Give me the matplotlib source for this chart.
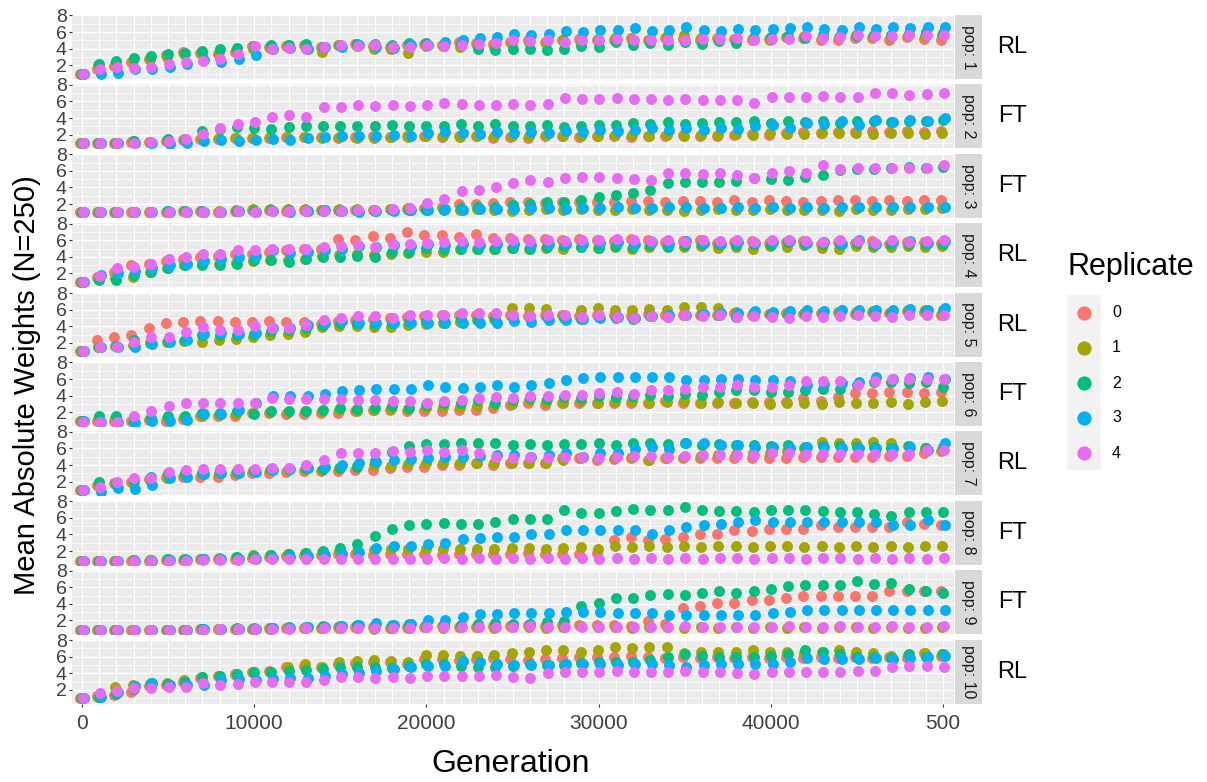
import numpy as np
import matplotlib
matplotlib.use("Agg")
import matplotlib.pyplot as plt

plt.rcParams["font.family"] = ["Liberation Sans", "DejaVu Sans"]

generations = list(range(0, 50001, 1000))
replicates = ["0", "1", "2", "3", "4"]
rep_colors = ["#F8766D", "#A3A500", "#00BF7D", "#00B0F6", "#E76BF3"]
populations = ["pop: %d" % k for k in range(1, 11)]
regimes = ["RL", "FT", "FT", "RL", "RL", "FT", "RL", "FT", "FT", "RL"]
x_tick_labels = ["0", "10000", "20000", "30000", "40000", "500"]

# ---- pop 1 ----
pop1_r0 = [1.0, 1.6, 1.9, 2.4, 2.8, 3.2, 3.6, 3.5, 3.4, 3.6,
           4.3, 4.2, 4.3, 4.4, 4.2, 4.5, 4.6, 4.3, 4.2, 4.4,
           4.6, 4.5, 4.8, 4.7, 4.6, 4.8, 5.0, 4.8, 5.0, 5.2,
           5.0, 5.1, 5.3, 5.0, 5.3, 5.2, 5.0, 5.3, 5.2, 5.0,
           5.2, 5.4, 5.3, 5.1, 5.0, 5.3, 5.3, 5.1, 5.4, 5.2,
           5.1]
pop1_r1 = [1.0, 2.0, 2.2, 2.6, 2.8, 3.0, 3.4, 3.3, 3.6, 3.8,
           4.0, 4.1, 4.4, 4.2, 3.6, 4.4, 4.3, 4.0, 3.9, 3.5,
           4.3, 4.3, 4.2, 4.4, 4.2, 4.6, 4.8, 4.7, 5.0, 4.8,
           5.2, 5.3, 5.1, 5.0, 5.5, 5.6, 5.3, 5.0, 5.2, 5.3,
           5.0, 5.4, 5.5, 5.3, 5.4, 5.6, 5.5, 5.4, 5.6, 5.5,
           5.7]
pop1_r2 = [1.0, 2.2, 2.5, 2.9, 3.1, 3.3, 3.5, 3.7, 4.0, 4.1,
           4.3, 4.4, 4.5, 4.6, 4.2, 4.4, 4.6, 4.6, 4.4, 4.7,
           4.7, 4.3, 4.6, 3.9, 3.8, 4.0, 3.9, 3.8, 4.0, 4.3,
           4.2, 4.8, 4.4, 4.7, 4.5, 4.8, 4.6, 4.9, 4.7, 5.2,
           5.4, 5.5, 5.3, 5.6, 5.5, 5.5, 5.6, 5.7, 5.8, 6.0,
           5.9]
pop1_r3 = [1.0, 0.9, 1.1, 1.5, 1.6, 1.8, 2.2, 2.6, 2.4, 2.8,
           3.2, 3.9, 4.1, 4.0, 4.2, 4.2, 4.5, 4.2, 4.1, 4.4,
           4.4, 4.8, 5.0, 5.3, 5.4, 5.8, 5.7, 5.8, 6.1, 6.0,
           6.2, 6.3, 6.5, 6.1, 6.3, 6.6, 6.3, 6.1, 6.4, 6.2,
           6.4, 6.5, 6.6, 6.4, 6.3, 6.6, 6.4, 6.6, 6.5, 6.6,
           6.6]
pop1_r4 = [1.0, 1.5, 1.8, 1.7, 1.8, 2.1, 2.4, 2.5, 2.7, 3.4,
           4.3, 4.0, 4.1, 4.0, 4.2, 4.4, 4.3, 4.4, 4.2, 4.2,
           4.5, 4.3, 4.5, 4.6, 4.7, 5.0, 4.9, 5.0, 4.8, 5.0,
           5.0, 5.2, 5.1, 5.0, 5.1, 5.0, 5.2, 5.2, 5.3, 5.0,
           5.2, 5.2, 5.5, 5.3, 5.4, 5.6, 5.5, 5.5, 5.6, 5.7,
           5.6]

# ---- pop 2 ----
pop2_r0 = [1.0, 1.0, 1.0, 1.1, 1.1, 1.3, 1.4, 1.5, 1.5, 1.6,
           1.6, 1.6, 1.7, 1.7, 1.7, 1.6, 1.7, 1.8, 1.7, 1.8,
           1.8, 1.7, 1.8, 1.8, 1.6, 1.7, 1.6, 1.8, 1.8, 1.7,
           1.8, 1.9, 1.7, 1.8, 1.9, 2.0, 1.9, 1.9, 2.0, 2.1,
           2.0, 2.2, 2.3, 2.2, 2.3, 2.3, 2.4, 2.3, 2.4, 2.3,
           2.4]
pop2_r1 = [1.0, 1.0, 1.0, 1.2, 1.1, 1.4, 1.5, 1.5, 1.6, 1.6,
           1.6, 1.7, 1.6, 1.7, 1.6, 1.7, 1.6, 1.6, 1.7, 1.7,
           1.8, 1.8, 1.7, 1.8, 1.8, 1.9, 1.8, 2.0, 1.9, 1.8,
           1.9, 2.0, 2.0, 1.9, 2.0, 1.9, 2.0, 2.0, 2.1, 2.0,
           2.2, 2.1, 2.1, 2.2, 2.2, 2.2, 2.1, 2.2, 2.2, 2.1,
           2.2]
pop2_r2 = [1.0, 1.0, 1.0, 1.2, 1.0, 1.5, 1.4, 2.5, 2.7, 2.9,
           2.8, 2.7, 2.9, 3.0, 3.1, 3.0, 3.0, 3.1, 3.2, 3.0,
           3.1, 3.0, 3.3, 3.1, 3.3, 3.1, 3.1, 3.2, 2.9, 3.1,
           3.2, 3.2, 3.4, 3.3, 3.5, 3.3, 3.4, 3.5, 3.5, 3.6,
           3.4, 3.7, 3.5, 3.6, 3.4, 3.7, 3.6, 3.5, 3.7, 3.6,
           3.8]
pop2_r3 = [1.0, 1.0, 1.0, 1.0, 1.0, 0.9, 1.0, 1.2, 1.4, 1.3,
           1.4, 1.5, 1.4, 1.6, 1.7, 1.8, 1.9, 1.9, 2.0, 1.9,
           2.2, 2.3, 2.2, 2.1, 2.3, 2.2, 2.3, 2.2, 2.5, 2.3,
           2.6, 2.4, 2.6, 2.8, 2.6, 2.8, 2.6, 2.8, 2.7, 3.0,
           3.2, 2.8, 3.4, 3.3, 3.6, 3.2, 3.8, 3.5, 3.8, 3.6,
           4.0]
pop2_r4 = [1.0, 1.0, 1.0, 1.0, 1.1, 1.3, 1.5, 2.1, 2.8, 3.3,
           3.5, 4.1, 4.4, 4.1, 5.3, 5.3, 5.6, 5.5, 5.6, 5.5,
           5.6, 5.8, 5.7, 5.6, 5.6, 5.7, 5.6, 5.7, 6.4, 6.3,
           6.3, 6.4, 6.3, 6.3, 6.2, 6.3, 6.2, 6.2, 6.2, 5.8,
           6.5, 6.5, 6.5, 6.6, 6.5, 6.5, 7.0, 7.0, 6.8, 6.9,
           7.0]

# ---- pop 3 ----
pop3_r0 = [1.0, 1.0, 1.0, 1.0, 1.1, 1.1, 1.2, 1.2, 1.1, 1.2,
           1.3, 1.3, 1.2, 1.3, 1.3, 1.3, 1.3, 1.3, 1.4, 1.4,
           1.5, 1.6, 2.0, 2.0, 2.1, 2.2, 2.3, 2.1, 2.3, 2.3,
           2.2, 2.3, 2.4, 2.4, 2.3, 2.4, 2.4, 2.2, 2.5, 2.3,
           2.5, 2.4, 2.2, 2.4, 2.5, 2.5, 2.4, 2.5, 2.4, 2.5,
           2.5]
pop3_r1 = [1.0, 1.0, 1.0, 1.0, 1.1, 1.2, 1.2, 1.1, 1.2, 1.3,
           1.4, 1.4, 1.4, 1.4, 1.3, 1.4, 1.4, 1.3, 1.4, 1.5,
           1.4, 1.4, 1.3, 1.4, 1.3, 1.2, 1.3, 1.4, 1.3, 1.4,
           1.3, 1.3, 1.4, 1.3, 1.3, 1.2, 1.3, 1.4, 1.3, 1.3,
           1.4, 1.3, 1.3, 1.3, 1.2, 1.4, 1.3, 1.3, 1.4, 1.4,
           1.5]
pop3_r2 = [1.0, 1.0, 1.0, 1.0, 1.0, 1.2, 1.2, 1.2, 1.1, 1.2,
           1.2, 1.3, 1.3, 1.2, 1.2, 1.2, 1.3, 1.2, 1.3, 1.3,
           1.3, 1.3, 1.5, 1.6, 1.7, 1.9, 2.0, 2.2, 2.3, 2.5,
           2.9, 3.1, 3.3, 3.7, 4.5, 4.6, 4.6, 4.7, 4.8, 5.1,
           5.0, 4.9, 5.3, 5.5, 6.1, 6.2, 6.2, 6.3, 6.5, 6.4,
           6.5]
pop3_r3 = [1.0, 1.0, 1.0, 1.0, 1.0, 1.1, 1.1, 1.1, 1.1, 1.2,
           1.1, 1.2, 1.1, 1.2, 1.3, 1.2, 1.1, 1.2, 1.2, 1.3,
           1.3, 1.4, 1.3, 1.4, 1.4, 1.4, 1.5, 1.5, 1.4, 1.5,
           1.5, 1.6, 1.5, 1.5, 1.6, 1.6, 1.5, 1.5, 1.6, 1.5,
           1.6, 1.5, 1.6, 1.5, 1.6, 1.7, 1.6, 1.6, 1.7, 1.6,
           1.6]
pop3_r4 = [1.0, 1.0, 1.0, 1.0, 1.0, 1.1, 1.1, 1.1, 1.1, 1.2,
           1.1, 1.2, 1.2, 1.2, 1.2, 1.2, 1.3, 1.3, 1.4, 1.5,
           2.1, 2.6, 3.6, 3.7, 4.1, 4.5, 4.9, 4.7, 5.1, 5.3,
           5.2, 5.1, 5.0, 4.9, 5.7, 5.8, 5.6, 5.7, 5.5, 5.1,
           5.7, 6.0, 5.7, 6.7, 6.2, 6.3, 6.3, 6.3, 6.3, 6.3,
           6.7]

# ---- pop 4 ----
pop4_r0 = [1.0, 1.6, 2.2, 3.0, 3.2, 3.5, 3.8, 4.0, 4.1, 4.3,
           4.4, 4.6, 4.8, 4.9, 5.0, 6.2, 6.0, 6.5, 6.3, 7.0,
           6.6, 6.6, 6.4, 6.8, 6.3, 6.3, 6.2, 6.2, 6.0, 6.1,
           6.0, 5.9, 6.1, 6.0, 5.8, 5.9, 6.0, 5.7, 5.8, 5.9,
           5.7, 5.8, 5.9, 5.6, 5.8, 5.7, 5.9, 5.6, 5.8, 5.8,
           5.7]
pop4_r1 = [1.0, 1.3, 1.5, 1.6, 2.2, 2.7, 3.0, 3.1, 3.2, 3.3,
           3.5, 3.6, 3.6, 3.7, 4.1, 4.2, 4.3, 4.2, 4.4, 4.5,
           4.6, 4.6, 4.9, 5.0, 5.0, 5.1, 5.0, 5.1, 5.0, 5.2,
           5.1, 5.2, 5.0, 5.2, 5.3, 5.2, 5.3, 5.1, 5.2, 5.0,
           5.3, 5.2, 5.4, 5.1, 5.0, 5.3, 5.2, 5.2, 5.3, 5.2,
           5.3]
pop4_r2 = [1.0, 1.2, 1.2, 1.8, 2.2, 2.6, 3.0, 3.0, 3.0, 3.2,
           3.6, 3.6, 3.4, 3.8, 4.0, 4.0, 4.1, 4.0, 4.6, 4.6,
           5.1, 4.9, 5.0, 5.0, 4.9, 5.1, 5.0, 5.2, 5.3, 5.2,
           5.1, 5.3, 5.2, 5.4, 5.2, 5.4, 5.5, 5.6, 5.4, 5.6,
           5.4, 5.8, 5.5, 5.6, 5.5, 5.7, 5.4, 5.6, 5.5, 5.6,
           5.5]
pop4_r3 = [1.0, 1.8, 2.0, 2.3, 2.7, 3.0, 3.2, 3.5, 3.8, 4.0,
           4.1, 4.8, 4.5, 4.6, 4.8, 5.0, 5.3, 5.2, 5.4, 5.3,
           5.5, 5.4, 5.6, 5.4, 5.5, 5.6, 5.4, 5.5, 5.6, 5.5,
           5.7, 5.8, 5.6, 5.8, 5.6, 5.9, 5.7, 5.6, 5.8, 5.7,
           5.8, 5.9, 5.7, 5.8, 5.6, 6.0, 5.6, 5.8, 5.9, 5.7,
           5.9]
pop4_r4 = [1.0, 1.7, 2.6, 2.8, 3.2, 3.8, 4.0, 4.4, 4.4, 4.8,
           4.8, 4.9, 5.0, 5.0, 5.2, 5.3, 5.4, 5.2, 5.6, 5.5,
           5.7, 5.8, 5.9, 5.8, 5.9, 6.0, 5.9, 6.0, 5.9, 6.0,
           6.0, 6.1, 6.0, 5.9, 6.0, 5.8, 6.0, 5.9, 6.0, 5.8,
           6.0, 6.0, 5.9, 5.8, 6.0, 5.9, 5.7, 6.0, 5.8, 5.9,
           6.0]

# ---- pop 5 ----
pop5_r0 = [1.0, 2.3, 2.7, 2.9, 3.8, 4.4, 4.5, 4.6, 4.6, 4.5,
           4.5, 4.6, 4.5, 4.5, 4.3, 4.6, 4.8, 4.9, 5.0, 5.1,
           5.2, 5.3, 5.4, 5.3, 5.2, 5.3, 5.2, 5.4, 5.3, 5.2,
           5.3, 5.4, 5.2, 5.5, 5.4, 5.3, 5.4, 5.3, 5.6, 5.4,
           5.5, 5.6, 5.5, 5.6, 5.7, 5.5, 5.7, 5.6, 5.8, 5.7,
           5.3]
pop5_r1 = [1.0, 1.5, 1.6, 1.8, 2.0, 2.1, 2.2, 2.1, 2.3, 2.5,
           2.7, 2.9, 3.1, 3.3, 3.9, 4.0, 4.0, 3.9, 3.9, 4.2,
           4.3, 4.4, 4.5, 4.7, 4.9, 6.2, 6.2, 6.1, 5.4, 5.9,
           6.2, 6.0, 6.0, 6.1, 5.9, 6.3, 6.3, 6.2, 5.7, 5.6,
           5.5, 5.5, 5.6, 5.5, 5.5, 5.7, 5.8, 5.7, 5.9, 5.9,
           5.5]
pop5_r2 = [1.0, 1.5, 1.6, 2.3, 2.0, 2.2, 2.4, 2.9, 3.0, 3.0,
           3.1, 3.4, 3.6, 3.8, 4.2, 4.4, 4.4, 4.3, 4.4, 4.5,
           4.6, 4.8, 4.9, 4.8, 4.9, 5.0, 5.2, 5.1, 5.0, 4.9,
           5.1, 5.0, 4.9, 5.2, 5.1, 5.3, 5.3, 5.4, 5.1, 5.4,
           5.5, 5.3, 5.5, 5.6, 5.7, 5.5, 5.7, 5.6, 5.7, 5.8,
           5.9]
pop5_r3 = [1.0, 1.5, 1.5, 1.5, 1.9, 2.1, 2.3, 3.1, 3.2, 3.1,
           3.2, 3.8, 3.8, 4.1, 4.4, 4.6, 4.4, 4.4, 4.4, 4.4,
           4.4, 4.4, 4.4, 4.4, 4.4, 4.6, 4.5, 4.8, 4.7, 4.9,
           5.0, 5.1, 5.0, 5.2, 5.4, 5.3, 5.5, 5.6, 5.6, 5.8,
           5.7, 5.8, 5.9, 5.8, 5.9, 6.0, 5.9, 6.0, 6.1, 6.0,
           6.2]
pop5_r4 = [1.0, 1.5, 1.5, 2.1, 2.7, 2.7, 3.3, 3.9, 3.6, 3.5,
           4.0, 3.8, 3.8, 4.2, 4.8, 5.0, 5.2, 5.2, 5.0, 5.4,
           5.4, 5.4, 5.6, 5.6, 5.6, 5.3, 5.2, 5.4, 5.3, 5.1,
           5.3, 5.1, 5.0, 5.2, 5.1, 5.3, 5.2, 5.3, 5.1, 5.2,
           5.1, 5.0, 5.2, 5.1, 5.2, 5.3, 5.2, 5.1, 5.3, 5.4,
           5.3]

# ---- pop 6 ----
pop6_r0 = [0.9, 0.9, 1.0, 1.0, 1.1, 1.0, 1.2, 1.5, 1.6, 1.6,
           1.9, 1.9, 1.8, 1.8, 1.9, 1.9, 2.1, 2.3, 2.3, 2.2,
           2.2, 2.2, 2.3, 2.3, 2.5, 2.9, 3.1, 2.9, 3.1, 3.1,
           3.1, 3.1, 3.1, 3.1, 3.3, 3.1, 3.1, 3.1, 3.1, 3.2,
           3.2, 3.2, 3.7, 3.3, 3.8, 4.3, 4.3, 4.5, 4.4, 4.3,
           4.5]
pop6_r1 = [0.9, 1.2, 1.3, 1.0, 1.2, 1.3, 1.4, 1.6, 1.7, 1.8,
           1.9, 2.0, 2.0, 2.1, 2.2, 2.3, 2.2, 2.3, 2.4, 2.4,
           2.5, 2.6, 2.6, 2.8, 2.9, 3.0, 3.5, 3.2, 3.1, 3.3,
           3.1, 3.2, 3.3, 3.1, 3.2, 3.3, 3.1, 3.2, 3.1, 3.1,
           3.0, 3.1, 3.1, 3.0, 3.2, 3.1, 3.1, 3.2, 3.0, 3.2,
           3.3]
pop6_r2 = [0.9, 1.5, 1.6, 0.9, 1.3, 1.5, 1.5, 1.9, 1.9, 2.1,
           1.8, 2.1, 2.1, 2.1, 2.3, 2.5, 2.4, 2.5, 2.7, 2.5,
           2.9, 3.1, 3.1, 3.5, 3.1, 3.5, 3.7, 3.6, 3.8, 3.7,
           3.9, 3.8, 4.0, 4.1, 4.0, 4.2, 4.1, 4.5, 4.7, 4.7,
           4.5, 4.5, 4.7, 4.8, 4.8, 5.3, 5.6, 5.6, 5.5, 5.6,
           5.1]
pop6_r3 = [0.9, 0.8, 0.8, 0.7, 0.9, 0.9, 1.1, 1.8, 1.8, 2.3,
           3.1, 3.9, 3.9, 3.9, 4.2, 4.6, 4.7, 4.8, 4.8, 4.8,
           5.3, 5.1, 4.9, 5.0, 5.3, 5.1, 5.3, 5.5, 5.9, 6.1,
           6.2, 6.2, 6.2, 6.2, 6.2, 5.9, 5.9, 6.0, 6.0, 5.9,
           5.9, 5.8, 5.3, 5.4, 5.5, 5.7, 6.2, 6.0, 6.1, 6.2,
           6.0]
pop6_r4 = [0.8, 0.8, 0.8, 1.5, 2.1, 2.7, 3.1, 3.1, 3.1, 3.1,
           3.1, 3.7, 3.6, 3.6, 3.6, 3.6, 3.5, 3.5, 3.4, 3.3,
           3.1, 3.4, 3.5, 3.7, 3.8, 3.7, 4.0, 4.0, 4.1, 4.1,
           4.3, 4.4, 4.2, 4.7, 4.7, 4.8, 5.1, 5.1, 5.3, 5.1,
           5.0, 5.3, 5.8, 5.8, 5.8, 5.3, 5.8, 6.0, 6.0, 6.0,
           6.0]

# ---- pop 7 ----
pop7_r0 = [1.0, 1.6, 1.8, 2.0, 2.3, 2.6, 2.6, 2.6, 2.6, 2.8,
           3.0, 3.1, 3.2, 3.3, 3.3, 3.3, 3.4, 3.4, 3.6, 3.8,
           3.8, 4.0, 4.0, 4.2, 4.0, 4.2, 4.3, 4.3, 4.9, 4.8,
           4.6, 4.7, 4.8, 4.6, 4.8, 4.8, 4.8, 4.8, 4.8, 4.8,
           4.9, 4.9, 5.0, 5.0, 5.0, 5.0, 5.0, 5.1, 5.1, 5.4,
           5.7]
pop7_r1 = [1.0, 1.5, 1.7, 1.9, 2.2, 2.5, 2.8, 2.9, 3.0, 3.1,
           3.3, 3.4, 3.4, 3.5, 3.4, 3.6, 3.9, 4.0, 3.9, 4.1,
           4.2, 4.3, 4.2, 4.2, 4.2, 4.2, 4.2, 4.2, 4.6, 4.8,
           4.8, 4.8, 5.0, 4.6, 4.9, 5.0, 5.1, 5.2, 5.3, 5.4,
           5.5, 5.7, 6.0, 6.8, 6.6, 6.7, 6.8, 6.7, 6.3, 6.0,
           5.8]
pop7_r2 = [1.0, 2.0, 1.8, 2.1, 2.6, 3.0, 3.1, 3.1, 3.2, 3.3,
           3.4, 3.5, 3.5, 3.6, 3.5, 3.6, 3.8, 4.5, 5.6, 6.3,
           6.5, 6.5, 6.6, 6.6, 6.6, 6.4, 6.5, 6.4, 6.5, 6.5,
           6.6, 6.4, 6.6, 6.6, 6.5, 6.6, 6.4, 6.5, 6.4, 6.4,
           6.3, 6.4, 6.2, 6.3, 6.3, 6.2, 6.2, 6.0, 6.3, 6.0,
           6.2]
pop7_r3 = [1.0, 0.8, 1.2, 1.1, 1.6, 2.4, 2.6, 2.9, 3.0, 3.1,
           3.2, 3.4, 3.5, 3.6, 3.8, 4.0, 4.2, 4.4, 4.6, 4.7,
           4.8, 5.0, 5.0, 5.1, 5.2, 5.2, 5.0, 5.2, 5.4, 5.0,
           5.5, 5.5, 5.9, 6.2, 5.9, 6.6, 6.6, 6.4, 6.4, 6.2,
           6.2, 6.0, 6.2, 6.2, 6.0, 6.0, 6.0, 6.0, 6.2, 5.8,
           6.6]
pop7_r4 = [1.0, 1.4, 2.0, 2.5, 2.5, 3.2, 3.4, 3.5, 3.5, 3.5,
           3.5, 3.6, 3.6, 4.0, 4.6, 5.4, 5.4, 5.4, 5.7, 5.6,
           5.8, 5.6, 5.8, 5.4, 5.0, 4.8, 5.0, 4.8, 5.0, 5.0,
           4.8, 5.0, 5.1, 5.1, 5.0, 5.1, 5.2, 5.2, 5.2, 5.2,
           5.4, 5.4, 5.3, 5.3, 5.3, 5.3, 5.3, 5.3, 5.3, 5.8,
           5.8]

# ---- pop 8 ----
pop8_r0 = [0.8, 0.8, 0.8, 0.8, 0.8, 0.9, 0.9, 1.0, 1.0, 1.1,
           1.2, 1.3, 1.4, 1.4, 1.5, 1.6, 1.6, 1.5, 1.6, 1.7,
           1.6, 1.5, 1.7, 1.6, 1.7, 1.7, 1.8, 1.7, 1.7, 1.6,
           1.8, 3.3, 3.7, 3.3, 3.5, 3.7, 4.1, 4.1, 4.5, 4.4,
           4.7, 4.7, 4.7, 5.1, 4.9, 4.9, 4.9, 4.9, 5.5, 5.3,
           5.1]
pop8_r1 = [0.8, 0.8, 0.8, 0.9, 0.9, 1.0, 1.1, 1.1, 1.2, 1.3,
           1.5, 1.5, 1.6, 1.8, 1.9, 2.0, 2.0, 2.1, 2.2, 2.2,
           2.3, 2.2, 2.3, 2.3, 2.3, 2.4, 2.4, 2.3, 2.4, 2.5,
           2.3, 2.6, 2.5, 2.6, 2.5, 2.6, 2.5, 2.6, 2.6, 2.5,
           2.6, 2.6, 2.5, 2.6, 2.5, 2.6, 2.5, 2.6, 2.5, 2.6,
           2.6]
pop8_r2 = [0.8, 0.8, 0.8, 0.9, 0.9, 1.0, 1.0, 1.1, 1.1, 1.3,
           1.4, 1.5, 1.6, 1.8, 2.0, 2.4, 2.8, 3.8, 4.7, 5.1,
           5.3, 5.4, 5.2, 5.2, 5.5, 5.9, 5.9, 5.9, 7.0, 6.6,
           6.6, 6.8, 7.1, 7.0, 7.0, 7.3, 7.0, 6.8, 6.8, 6.7,
           7.0, 7.0, 7.0, 6.8, 6.7, 6.7, 6.5, 6.2, 6.7, 6.7,
           6.7]
pop8_r3 = [0.8, 0.8, 0.8, 0.8, 0.8, 0.9, 0.9, 1.0, 1.0, 1.1,
           1.1, 1.2, 1.3, 1.4, 1.5, 1.6, 1.9, 2.4, 2.6, 2.6,
           2.8, 3.0, 3.4, 3.6, 3.7, 3.7, 4.1, 4.1, 4.5, 4.5,
           4.5, 4.5, 4.5, 4.1, 4.5, 4.9, 5.1, 5.3, 5.5, 5.7,
           5.5, 5.5, 5.5, 5.5, 5.5, 5.5, 5.5, 5.1, 5.1, 5.7,
           5.1]
pop8_r4 = [0.8, 0.8, 0.8, 0.8, 0.8, 0.8, 0.8, 0.9, 0.9, 0.9,
           1.0, 1.0, 1.0, 1.0, 1.1, 1.1, 1.1, 1.1, 1.1, 1.1,
           1.1, 1.2, 1.1, 1.2, 1.1, 1.2, 1.1, 1.2, 1.1, 1.2,
           1.1, 1.2, 1.1, 1.2, 1.1, 1.2, 1.1, 1.2, 1.2, 1.1,
           1.2, 1.2, 1.1, 1.2, 1.2, 1.1, 1.2, 1.1, 1.2, 1.1,
           1.2]

# ---- pop 9 ----
pop9_r0 = [0.9, 0.9, 0.9, 0.9, 0.9, 0.9, 0.9, 1.0, 1.0, 1.0,
           1.0, 1.1, 1.1, 1.1, 1.1, 1.2, 1.2, 1.2, 1.1, 1.2,
           1.2, 1.3, 1.2, 1.2, 1.3, 1.3, 1.4, 1.3, 1.4, 1.5,
           1.4, 1.4, 1.3, 1.9, 1.6, 3.5, 3.7, 4.1, 4.1, 4.5,
           4.5, 4.7, 4.9, 4.9, 4.9, 4.9, 4.9, 5.5, 5.6, 5.6,
           5.5]
pop9_r1 = [0.9, 0.9, 0.9, 0.9, 0.9, 0.9, 0.9, 1.0, 1.0, 1.0,
           1.0, 1.0, 1.1, 1.1, 1.1, 1.1, 1.1, 1.0, 1.1, 1.1,
           1.2, 1.1, 1.2, 1.2, 1.1, 1.2, 1.2, 1.1, 1.2, 1.3,
           1.2, 1.2, 1.1, 1.2, 1.2, 1.1, 1.2, 1.1, 1.2, 1.1,
           1.2, 1.1, 1.2, 1.1, 1.2, 1.2, 1.1, 1.2, 1.1, 1.1,
           1.2]
pop9_r2 = [0.9, 0.9, 0.9, 0.9, 0.9, 0.9, 0.9, 1.0, 1.0, 1.1,
           1.1, 1.1, 1.2, 1.2, 1.3, 1.3, 1.4, 1.5, 1.4, 1.6,
           1.5, 1.6, 1.5, 1.6, 1.7, 1.6, 1.6, 1.8, 1.9, 3.7,
           4.1, 4.7, 4.7, 5.1, 5.2, 5.1, 5.3, 5.6, 5.3, 5.5,
           5.8, 6.1, 6.3, 6.3, 6.3, 6.7, 6.4, 6.5, 5.8, 5.5,
           5.3]
pop9_r3 = [0.9, 0.9, 0.9, 0.9, 0.9, 0.9, 0.9, 1.0, 1.0, 1.0,
           1.0, 1.1, 1.1, 1.2, 1.2, 1.3, 1.4, 1.65, 1.5, 1.6,
           2.05, 2.1, 2.45, 2.75, 2.75, 2.85, 2.85, 2.85, 3.05, 3.05,
           3.05, 2.85, 2.85, 2.85, 2.65, 2.65, 2.65, 2.65, 2.65, 2.65,
           2.85, 3.05, 3.3, 3.3, 3.3, 3.3, 3.3, 3.3, 3.3, 3.3,
           3.3]
pop9_r4 = [0.9, 0.9, 0.9, 0.9, 0.9, 0.9, 0.9, 0.9, 1.0, 1.0,
           1.0, 1.0, 1.0, 1.1, 1.1, 1.1, 1.1, 1.1, 1.1, 1.1,
           1.2, 1.2, 1.2, 1.2, 1.2, 1.2, 1.3, 1.2, 1.2, 1.2,
           1.2, 1.2, 1.2, 1.2, 1.2, 1.3, 1.2, 1.2, 1.2, 1.2,
           1.2, 1.3, 1.2, 1.2, 1.3, 1.2, 1.2, 1.3, 1.2, 1.2,
           1.3]

# ---- pop 10 ----
pop10_r0 = [1.0, 1.3, 1.4, 1.8, 2.5, 2.6, 2.9, 3.4, 3.7, 3.9,
            4.1, 4.3, 4.7, 4.9, 4.8, 5.1, 5.2, 5.4, 5.3, 5.1,
            5.7, 5.7, 5.6, 5.7, 5.8, 5.7, 5.6, 5.7, 5.8, 5.9,
            6.0, 6.0, 6.1, 6.0, 5.8, 5.9, 5.8, 5.9, 5.8, 5.9,
            5.8, 5.9, 5.8, 5.9, 5.8, 5.9, 5.8, 5.9, 5.8, 6.4,
            6.1]
pop10_r1 = [1.0, 1.1, 2.3, 2.6, 2.7, 2.8, 3.2, 3.6, 3.7, 3.8,
            4.1, 4.2, 4.8, 5.1, 4.8, 5.3, 5.5, 5.6, 5.5, 5.4,
            6.2, 6.2, 6.1, 6.1, 6.2, 6.4, 6.5, 6.8, 6.8, 6.6,
            6.8, 7.1, 7.0, 7.1, 7.1, 6.4, 6.5, 6.6, 6.6, 6.75,
            6.6, 6.5, 6.4, 6.5, 6.8, 6.5, 6.4, 6.1, 6.2, 6.4,
            6.3]
pop10_r2 = [1.0, 1.1, 1.5, 2.1, 2.8, 2.7, 3.0, 3.5, 3.7, 3.9,
            4.1, 4.1, 4.3, 4.4, 4.5, 4.7, 4.7, 4.7, 4.6, 4.9,
            5.1, 5.1, 4.9, 4.8, 4.7, 4.9, 5.1, 5.0, 5.0, 5.2,
            5.3, 5.3, 5.3, 5.6, 5.9, 6.3, 6.1, 5.9, 5.9, 5.9,
            6.1, 6.3, 6.75, 6.6, 6.3, 5.9, 5.9, 5.8, 6.3, 5.9,
            6.3]
pop10_r3 = [1.0, 1.2, 1.8, 2.5, 2.8, 2.6, 2.6, 2.6, 3.2, 3.3,
            3.2, 3.3, 3.4, 3.4, 3.7, 3.9, 4.0, 4.3, 4.5, 4.7,
            4.9, 4.9, 5.5, 5.3, 5.1, 5.0, 5.0, 5.0, 5.1, 5.1,
            5.1, 5.0, 5.1, 5.1, 5.0, 4.8, 5.0, 5.1, 5.1, 5.1,
            5.1, 5.3, 5.8, 5.7, 5.7, 5.7, 5.8, 5.7, 5.8, 6.0,
            6.1]
pop10_r4 = [1.0, 1.6, 1.9, 2.2, 2.2, 2.4, 2.4, 2.8, 2.6, 2.7,
            2.9, 2.9, 2.9, 3.0, 3.2, 3.5, 3.5, 3.4, 3.5, 3.4,
            3.7, 3.7, 3.7, 3.7, 3.8, 3.6, 3.4, 4.0, 4.1, 4.2,
            4.2, 4.3, 4.2, 4.1, 4.1, 4.3, 4.1, 4.2, 4.0, 3.9,
            4.1, 4.1, 4.2, 4.2, 4.2, 4.3, 4.3, 4.7, 4.9, 4.9,
            4.7]

pop_data = [
    [pop1_r0, pop1_r1, pop1_r2, pop1_r3, pop1_r4],
    [pop2_r0, pop2_r1, pop2_r2, pop2_r3, pop2_r4],
    [pop3_r0, pop3_r1, pop3_r2, pop3_r3, pop3_r4],
    [pop4_r0, pop4_r1, pop4_r2, pop4_r3, pop4_r4],
    [pop5_r0, pop5_r1, pop5_r2, pop5_r3, pop5_r4],
    [pop6_r0, pop6_r1, pop6_r2, pop6_r3, pop6_r4],
    [pop7_r0, pop7_r1, pop7_r2, pop7_r3, pop7_r4],
    [pop8_r0, pop8_r1, pop8_r2, pop8_r3, pop8_r4],
    [pop9_r0, pop9_r1, pop9_r2, pop9_r3, pop9_r4],
    [pop10_r0, pop10_r1, pop10_r2, pop10_r3, pop10_r4],
]

W, H = 1207, 782
fig = plt.figure(figsize=(W / 100, H / 100), dpi=100)
fig.patch.set_facecolor("white")


def px_box(left, top, width, height):
    # pixel box (from top-left) -> figure fraction rect
    return [left / W, 1 - (top + height) / H, width / W, height / H]


x_pos = np.arange(len(generations))
dodge = [-0.12, -0.05, 0.0, 0.1, 0.04]   # small per-replicate shift inside each generation
y_lo, y_hi = 0.35, 8.05

panel_left, panel_width = 71.5, 882
panel_h, step, first_top = 64, 69.4, 15

for i, series in enumerate(pop_data):
    top = first_top + i * step
    ax = fig.add_axes(px_box(panel_left, top, panel_width, panel_h))
    ax.set_facecolor("#EBEBEB")
    ax.set_xlim(-0.6, len(generations) - 0.4)
    ax.set_ylim(y_lo, y_hi)

    # grid: one line per generation level, y majors and minors
    ax.vlines(x_pos, y_lo, y_hi, color="white", lw=0.9, zorder=0)
    ax.hlines([1, 3, 5, 7], -0.6, len(generations), color="white", lw=0.5, zorder=0)
    ax.hlines([2, 4, 6, 8], -0.6, len(generations), color="white", lw=1.0, zorder=0)

    for k, vals in enumerate(series):
        ax.scatter(x_pos + dodge[k], vals, s=62, color=rep_colors[k],
                   linewidths=0, zorder=2 + k)

    for sp in ax.spines.values():
        sp.set_visible(False)

    ax.set_yticks([2, 4, 6, 8])
    ax.set_yticklabels(["2", "4", "6", "8"])
    ax.tick_params(axis="y", length=2.5, width=0.8, color="#333333",
                   labelsize=14, labelcolor="#3F3F3F", pad=1)

    ax.set_xticks(x_pos[::10])
    if i == len(pop_data) - 1:
        ax.set_xticklabels(x_tick_labels)
        ax.tick_params(axis="x", length=2.5, width=0.8, color="#333333",
                       labelsize=15, labelcolor="#3F3F3F", pad=5)
    else:
        ax.set_xticklabels([])
        ax.tick_params(axis="x", length=0)

    # facet strip on the right
    sax = fig.add_axes(px_box(955, top, 27, panel_h))
    sax.set_facecolor("#D9D9D9")
    sax.set_xticks([])
    sax.set_yticks([])
    for sp in sax.spines.values():
        sp.set_visible(False)
    sax.text(0.5, 0.5, populations[i], rotation=-90, ha="center", va="center",
             fontsize=11.5, color="#1A1A1A", transform=sax.transAxes)

    fig.text(1012 / W, 1 - (top + panel_h / 2) / H, regimes[i],
             ha="center", va="center", fontsize=17, color="black")

fig.text(27 / W, 1 - 385 / H, "Mean Absolute Weights (N=250)", rotation=90,
         ha="center", va="center", fontsize=21, color="black")
fig.text(511 / W, 1 - 764 / H, "Generation", ha="center", va="center",
         fontsize=23, color="black")

# legend
fig.text(1068 / W, 1 - 267 / H, "Replicate", ha="left", va="center",
         fontsize=22, color="black")
lax = fig.add_axes(px_box(1067, 295, 34, 175))
lax.set_facecolor("#F2F2F2")
lax.set_xlim(0, 1)
lax.set_ylim(0, 175)
lax.set_xticks([])
lax.set_yticks([])
for sp in lax.spines.values():
    sp.set_visible(False)
for k, lab in enumerate(replicates):
    yk = 175 - (18 + 35 * k)
    lax.scatter([0.5], [yk], s=105, color=rep_colors[k], linewidths=0)
    fig.text(1112 / W, 1 - (313 + 35 * k) / H, lab, ha="left", va="center",
             fontsize=11.5, color="black")

fig.savefig("out.png", dpi=100)
